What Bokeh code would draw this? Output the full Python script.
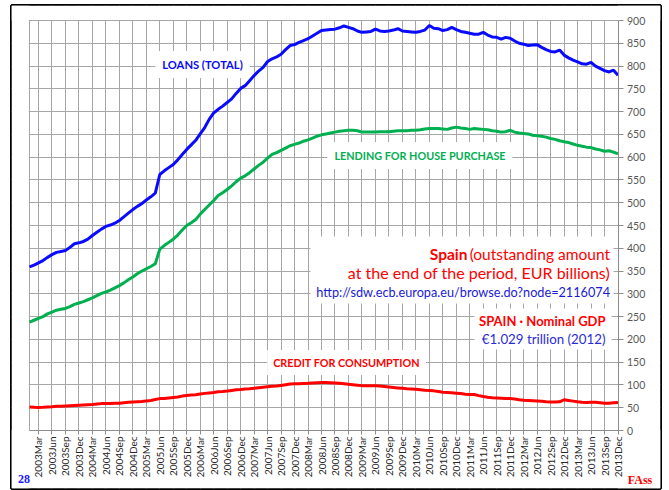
import math
from bokeh.plotting import figure
from bokeh.models import (Range1d, FixedTicker, SingleIntervalTicker, Label,
                          BoxAnnotation)
from bokeh.embed import file_html
from bokeh.resources import INLINE

# ---------------- data (EUR billions, monthly 2003Jan..2013Dec) ----------------
loans_total = [
    359, 363, 368, 373, 380, 386, 391, 393, 395, 402, 410, 412,
    415, 420, 428, 435, 442, 448, 451, 455, 461, 469, 477, 485,
    492, 498, 506, 513, 521, 562, 570, 577, 584, 594, 606, 617,
    627, 637, 651, 665, 683, 697, 705, 712, 720, 728, 740, 751,
    757, 768, 779, 789, 797, 810, 816, 820, 826, 836, 845, 847,
    852, 856, 860, 866, 872, 878, 879, 880, 881, 884, 888, 885,
    882, 877, 874, 875, 876, 881, 877, 876, 877, 879, 882, 877,
    876, 875, 874, 876, 879, 889, 883, 882, 878, 880, 885, 880,
    876, 874, 872, 870, 870, 874, 868, 864, 863, 859, 863, 861,
    855, 850, 848, 845, 846, 847, 841, 836, 832, 831, 835, 824,
    818, 813, 809, 805, 804, 808, 800, 795, 790, 787, 791, 780,
]
house_purchase = [
    238, 242, 246, 250, 256, 260, 264, 266, 268, 272, 277, 280,
    283, 287, 291, 296, 301, 304, 308, 313, 318, 324, 331, 337,
    344, 350, 355, 360, 366, 398, 406, 413, 420, 429, 440, 450,
    456, 463, 475, 485, 495, 505, 516, 522, 529, 537, 546, 554,
    559, 566, 574, 582, 589, 598, 606, 610, 615, 620, 625, 628,
    631, 635, 638, 642, 646, 649, 651, 653, 655, 657, 658, 659,
    659, 658, 655, 655, 655, 655, 656, 656, 656, 657, 658, 658,
    658, 659, 659, 660, 662, 663, 663, 663, 662, 661, 664, 666,
    664, 663, 661, 663, 662, 661, 660, 658, 657, 655, 656, 659,
    655, 653, 652, 651, 648, 647, 646, 644, 641, 639, 636, 634,
    632, 629, 626, 624, 622, 621, 618, 616, 613, 614, 611, 607,
]
consumption = [
    51.5, 51, 50.6, 51, 51.5, 52, 53, 53.5, 54, 54.5, 55, 55.5,
    56, 56.5, 57, 58, 59, 59.5, 59.5, 60, 60, 61, 62, 62.5,
    63, 63.5, 65, 66, 68, 70, 70.5, 71.5, 72.5, 73.5, 75.5, 77,
    78, 78.5, 80, 81.5, 82.5, 83.5, 85, 85.5, 86.5, 88, 89.5, 90,
    91, 91.5, 92.5, 94, 95, 96, 97, 97.5, 99, 100.5, 102, 102.5,
    102.5, 103, 103.5, 104.5, 105, 105.5, 105.5, 105, 104.5, 103.5, 102.5, 101.5,
    100.5, 99.5, 98.5, 98.5, 98.5, 98, 97.5, 96.5, 95.5, 94.5, 93.5, 92.5,
    91.5, 91, 90.5, 89.5, 88.5, 88, 87, 85.5, 84, 83.5, 83, 82,
    81, 79.5, 79, 79, 76.5, 74.5, 73, 72, 71.5, 71, 70.5, 70,
    69, 67.5, 66.5, 66, 65.5, 65, 64, 63, 62.5, 62.5, 63, 67.5,
    66, 64.5, 63, 62, 61.5, 62, 62, 61, 60, 60, 61, 61.5,
]
quarter_labels = [
    "2003Mar", "2003Jun", "2003Sep", "2003Dec", "2004Mar", "2004Jun", "2004Sep", "2004Dec",
    "2005Mar", "2005Jun", "2005Sep", "2005Dec", "2006Mar", "2006Jun", "2006Sep", "2006Dec",
    "2007Mar", "2007Jun", "2007Sep", "2007Dec", "2008Mar", "2008Jun", "2008Sep", "2008Dec",
    "2009Mar", "2009Jun", "2009Sep", "2009Dec", "2010Mar", "2010Jun", "2010Sep", "2010Dec",
    "2011Mar", "2011Jun", "2011Sep", "2011Dec", "2012Mar", "2012Jun", "2012Sep", "2012Dec",
    "2013Mar", "2013Jun", "2013Sep", "2013Dec",
]

months = list(range(len(loans_total)))
quarter_pos = [3 * k + 2 for k in range(len(quarter_labels))]
X0, X1 = 0, len(months) - 1
Y0, Y1 = 0, 900

# ---------------- layout (pixels) ----------------
W, H = 669, 490
FR_L, FR_R, FR_T, FR_B = 11, 660, 5, 488          # black outer box = plot frame
PA_L, PA_R, PA_T, PA_B = 29, 617.5, 20, 430        # gridded plot area
sx = (PA_R - PA_L) / (X1 - X0)
sy = (PA_B - PA_T) / (Y1 - Y0)
xr = Range1d(X0 - (PA_L - FR_L) / sx, X1 + (FR_R - PA_R) / sx)
yr = Range1d(Y0 - (FR_B - PA_B) / sy, Y1 + (PA_T - FR_T) / sy)

def dx(px):  # pixel -> data x (annotation placement helper)
    return X0 + (px - PA_L) / sx

def dy(py):
    return Y0 + (PA_B - py) / sy

FONT = "Lato"
GRID = "#a6a6a6"
AXIS = "#8c8c8c"

p = figure(width=W, height=H, output_backend="svg", toolbar_location=None,
           x_range=xr, y_range=yr, y_axis_location="right",
           min_border_left=FR_L, min_border_right=W - FR_R,
           min_border_top=FR_T, min_border_bottom=H - FR_B)
p.background_fill_color = "white"
p.border_fill_color = "white"
p.outline_line_color = "black"
p.outline_line_width = 3

# grid
p.xgrid.ticker = FixedTicker(ticks=[X0] + quarter_pos)
p.xgrid.grid_line_color = GRID
p.ygrid.ticker = SingleIntervalTicker(interval=50)
p.ygrid.grid_line_color = GRID

# white margins around the gridded area (hide grid outside it)
for kw in (dict(left=xr.start, right=xr.end, bottom=Y1 + 1.3, top=yr.end),
           dict(left=xr.start, right=xr.end, bottom=yr.start, top=Y0),
           dict(left=xr.start, right=X0 - 0.15, bottom=yr.start, top=yr.end),
           dict(left=X1, right=xr.end, bottom=yr.start, top=yr.end)):
    p.add_layout(BoxAnnotation(fill_color="white", fill_alpha=1, line_color=None,
                               level="underlay", **kw))

# axes drawn at fixed positions inside the frame
xa = p.xaxis[0]
xa.fixed_location = Y0
xa.bounds = (X0, X1)
xa.ticker = FixedTicker(ticks=quarter_pos)
xa.major_label_overrides = {q: l for q, l in zip(quarter_pos, quarter_labels)}
xa.major_label_orientation = math.pi / 2
xa.major_label_text_font = FONT
xa.major_label_text_font_size = "10px"
xa.major_label_text_color = "#262626"
xa.major_label_standoff = 2
xa.major_tick_in = 0
xa.major_tick_out = 4
xa.minor_tick_line_color = None
xa.axis_line_color = AXIS
xa.major_tick_line_color = AXIS

ya = p.yaxis[0]
ya.fixed_location = X1
ya.bounds = (Y0, Y1)
ya.ticker = SingleIntervalTicker(interval=50)
ya.major_label_text_font = FONT
ya.major_label_text_font_size = "10.5px"
ya.major_label_text_color = "#595959"
ya.major_tick_in = 0
ya.major_tick_out = 5
ya.minor_tick_line_color = None
ya.axis_line_color = AXIS
ya.major_tick_line_color = AXIS
ya.major_label_standoff = 4

# series
p.line(months, loans_total, line_color="#0a0aff", line_width=3)
p.line(months, house_purchase, line_color="#00b050", line_width=3)
p.line(months, consumption, line_color="#ff0000", line_width=3)

# ---- annotations ----
def lab(px, py, text, color, size, bold=False, align="center", bg=None, pad=0, font=FONT):
    l = Label(x=dx(px), y=dy(py), text=text, text_color=color, text_font=font,
              text_font_size=size, text_font_style="bold" if bold else "normal",
              text_align=align, text_baseline="middle")
    if bg:
        l.background_fill_color = bg
        l.padding = pad
    p.add_layout(l)
    return l

def white_box(l, r, t, b):
    p.add_layout(BoxAnnotation(left=dx(l), right=dx(r), top=dy(t), bottom=dy(b),
                               fill_color="white", fill_alpha=1, line_color=None))

white_box(310, 613, 236, 303)
white_box(474, 611, 308, 349)

lab(202, 64, "LOANS (TOTAL)", "#0a0aff", "11.2px", bold=True, bg="white", pad=7)
lab(419.5, 155, "LENDING FOR HOUSE PURCHASE", "#00b050", "10.8px", bold=True, bg="white", pad=7)
lab(346, 362, "CREDIT FOR CONSUMPTION", "#ff0000", "10.8px", bold=True, bg="white", pad=6)

lab(609.5, 253, "(outstanding amount", "#ff0000", "15.5px", align="right")
lab(467, 253, "Spain", "#ff0000", "15.5px", bold=True, align="right")
lab(609.5, 272, "at the end of the period, EUR billions)", "#ff0000", "16px", align="right")
lab(609.5, 291, "http://sdw.ecb.europa.eu/browse.do?node=2116074", "#1a1ad8", "12.7px", align="right")
p.segment(x0=[dx(316)], y0=[dy(297.5)], x1=[dx(609.5)], y1=[dy(297.5)],
          line_color="#1a1ad8", line_width=1)

lab(605, 320, "SPAIN \u00b7 Nominal GDP", "#ff0000", "13px", bold=True, align="right")
lab(605, 338, "\u20ac1.029 trillion (2012)", "#2b2bd8", "13.3px", align="right")

lab(23.5, 478, "28", "#1a1aff", "12px", bold=True, font="Liberation Serif")
lab(639.5, 479, "FAss", "#ff0000", "12px", bold=True, font="Liberation Serif")

open("out.html", "w").write(file_html(p, INLINE))
